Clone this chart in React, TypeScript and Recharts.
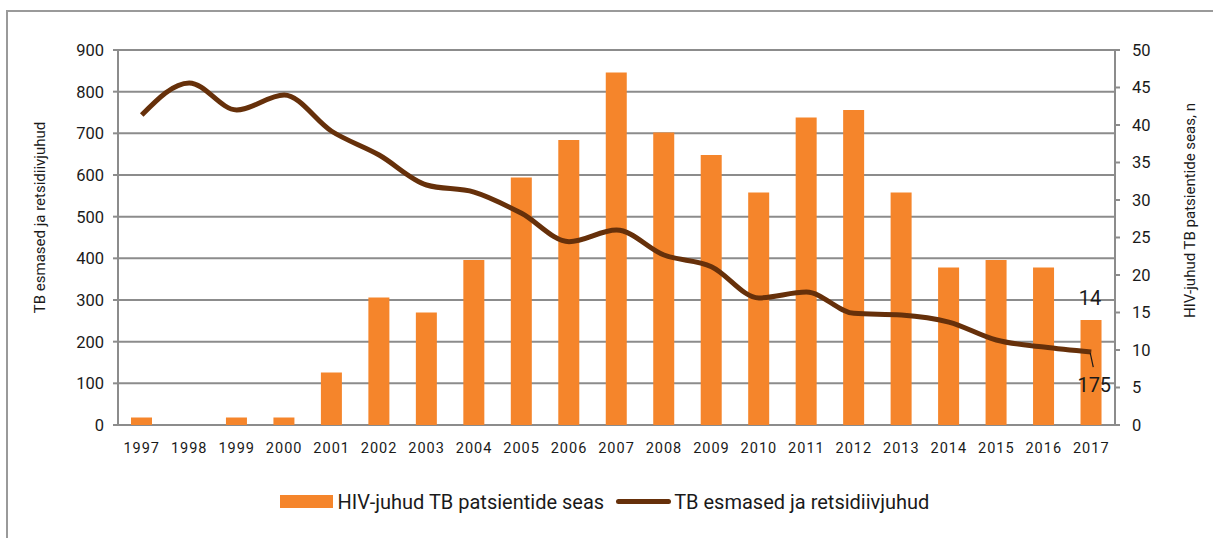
import React from "react";
import {
  ComposedChart,
  Bar,
  Line,
  XAxis,
  YAxis,
  CartesianGrid,
  Legend,
  LabelList,
} from "recharts";

const years = ["1997","1998","1999","2000","2001","2002","2003","2004","2005","2006","2007","2008","2009","2010","2011","2012","2013","2014","2015","2016","2017"];
const hivCases = [1, 0, 1, 1, 7, 17, 15, 22, 33, 38, 47, 39, 36, 31, 41, 42, 31, 21, 22, 21, 14];
const tbCases = [744, 821, 756, 792, 705, 648, 576, 559, 508, 440, 468, 408, 380, 305, 319, 268, 264, 247, 204, 187, 175];
const leftTicks = [0, 100, 200, 300, 400, 500, 600, 700, 800, 900];
const rightTicks = [0, 5, 10, 15, 20, 25, 30, 35, 40, 45, 50];
const boundaryTicks = Array.from({ length: years.length + 1 }, (_, i) => i);
const labelledYear = "2017";

const hivName = "HIV-juhud TB patsientide seas";
const tbName = "TB esmased ja retsidiivjuhud";
const leftAxisTitle = "TB esmased ja retsidiivjuhud";
const rightAxisTitle = "HIV-juhud TB patsientide seas, n";

const data = years.map((y, i) => ({
  year: y,
  hiv: hivCases[i],
  tb: tbCases[i],
  hivLabel: y === labelledYear ? hivCases[i] : null,
  tbLabel: y === labelledYear ? tbCases[i] : null,
}));

const BAR_COLOR = "#F5852B";
const LINE_COLOR = "#66300A";
const GRID = "#8c8c8c";
const TEXT = "#1a1a1a";
const FONT = "Roboto, 'DejaVu Sans', sans-serif";

const BarLastLabel = (props: any) => {
  const { value, x, y, width } = props;
  if (value == null || value === "") return null;
  return (
    <text x={x + width / 2 - 1} y={y - 15} textAnchor="middle" fontSize={20} fill={TEXT} fontFamily={FONT}>
      {value}
    </text>
  );
};

const LineLastLabel = (props: any) => {
  const { x, y, value } = props;
  if (value == null || value === "") return null;
  return (
    <g>
      <line x1={x - 1} y1={y + 1} x2={x + 2} y2={y + 15} stroke={TEXT} strokeWidth={1.2} />
      <text x={x + 3} y={y + 40} textAnchor="middle" fontSize={20} fill={TEXT} fontFamily={FONT}>
        {value}
      </text>
    </g>
  );
};

const LeftTitle = (props: any) => {
  const vb = props.viewBox || {};
  const cx = vb.x + 2;
  const cy = vb.y + vb.height / 2 - 20;
  return (
    <text
      x={cx}
      y={cy}
      transform={`rotate(-90, ${cx}, ${cy})`}
      textAnchor="middle"
      dominantBaseline="central"
      fontSize={15}
      fill={TEXT}
      fontFamily={FONT}
    >
      {leftAxisTitle}
    </text>
  );
};

const RightTitle = (props: any) => {
  const vb = props.viewBox || {};
  const cx = vb.x + vb.width - 15;
  const cy = vb.y + vb.height / 2 - 27;
  return (
    <text
      x={cx}
      y={cy}
      transform={`rotate(-90, ${cx}, ${cy})`}
      textAnchor="middle"
      dominantBaseline="central"
      fontSize={15}
      fill={TEXT}
      fontFamily={FONT}
    >
      {rightAxisTitle}
    </text>
  );
};

const LegendContent = () => (
  <div
    style={{
      height: 73,
      width: 1213,
      display: "flex",
      justifyContent: "center",
      alignItems: "center",
      boxSizing: "border-box",
      fontFamily: FONT,
      fontSize: 20,
      color: TEXT,
    }}
  >
    <div style={{ display: "flex", alignItems: "center", marginLeft: -4 }}>
      <span style={{ display: "inline-block", width: 53, height: 13, background: BAR_COLOR, marginRight: 5 }} />
      <span>{hivName}</span>
    </div>
    <div style={{ display: "flex", alignItems: "center", marginLeft: 12 }}>
      <span style={{ display: "inline-block", width: 55, height: 5, background: LINE_COLOR, borderRadius: 3, marginRight: 3 }} />
      <span>{tbName}</span>
    </div>
  </div>
);

export default function App() {
  return (
    <div style={{ position: "absolute", left: 0, top: 0, width: 1213, height: 538, background: "#fff", overflow: "hidden" }}>
      <div
        style={{
          position: "absolute",
          left: 6,
          top: 10,
          width: 1230,
          height: 560,
          borderLeft: "2px solid #9a9a9a",
          borderTop: "2px solid #9a9a9a",
        }}
      />
      <div style={{ position: "absolute", left: 0, top: 0 }}>
        <ComposedChart
          width={1213}
          height={538}
          data={data}
          margin={{ top: 50, right: 8, left: 38, bottom: 0 }}
          barCategoryGap={0}
        >
          <CartesianGrid vertical={false} stroke={GRID} strokeWidth={2} yAxisId="left" />
          <XAxis
            xAxisId="b"
            type="number"
            domain={[0, years.length]}
            ticks={boundaryTicks}
            allowDataOverflow
            tick={false}
            height={0}
            axisLine={{ stroke: GRID, strokeWidth: 2 }}
            tickLine={{ stroke: GRID, strokeWidth: 2 }}
            tickSize={6}
          />
          <XAxis
            xAxisId="cat"
            dataKey="year"
            interval={0}
            height={40}
            axisLine={false}
            tickLine={false}
            tickMargin={12}
            tick={{ fontSize: 14.5, fill: TEXT, fontFamily: FONT, letterSpacing: 1 }}
          />
          <YAxis
            yAxisId="left"
            orientation="left"
            domain={[0, 900]}
            ticks={leftTicks}
            width={80}
            axisLine={{ stroke: GRID, strokeWidth: 2 }}
            tickLine={{ stroke: GRID, strokeWidth: 2 }}
            tickSize={5}
            tickMargin={9}
            tick={{ fontSize: 16.5, fill: TEXT, fontFamily: FONT }}
            label={<LeftTitle />}
          />
          <YAxis
            yAxisId="right"
            orientation="right"
            domain={[0, 50]}
            ticks={rightTicks}
            width={90}
            axisLine={{ stroke: GRID, strokeWidth: 2 }}
            tickLine={{ stroke: GRID, strokeWidth: 2 }}
            tickSize={5}
            tickMargin={12}
            tick={{ fontSize: 16.5, fill: TEXT, fontFamily: FONT }}
            label={<RightTitle />}
          />
          <Bar
            xAxisId="cat"
            yAxisId="right"
            dataKey="hiv"
            name={hivName}
            fill={BAR_COLOR}
            barSize={21}
            isAnimationActive={false}
          >
            <LabelList dataKey="hivLabel" content={BarLastLabel} />
          </Bar>
          <Line
            xAxisId="cat"
            yAxisId="left"
            type="monotone"
            dataKey="tb"
            name={tbName}
            stroke={LINE_COLOR}
            strokeWidth={5}
            dot={false}
            activeDot={false}
            isAnimationActive={false}
          >
            <LabelList dataKey="tbLabel" content={LineLastLabel} />
          </Line>
          <Legend verticalAlign="bottom" content={LegendContent} wrapperStyle={{ left: 0, width: 1213 }} />
        </ComposedChart>
      </div>
    </div>
  );
}
